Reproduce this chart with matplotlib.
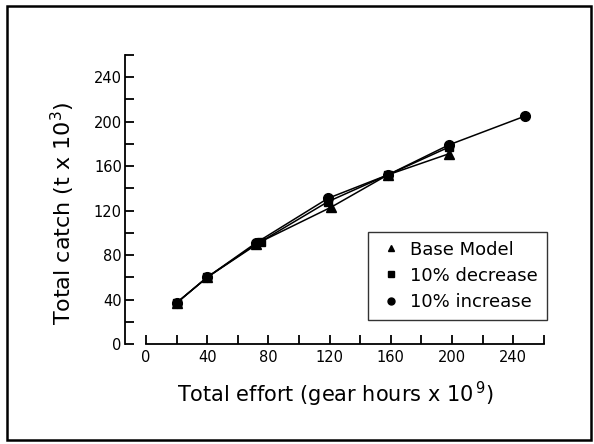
import matplotlib.pyplot as plt
from matplotlib.patches import Rectangle

# effort (gear hours x 10^9) vs catch (t x 10^3)
effort_base = [20, 40, 72, 121, 158, 198]
catch_base = [37, 60, 90, 123, 152, 171]

effort_dec = [20, 40, 75, 119, 158, 198]
catch_dec = [37, 60, 92, 128, 152, 177]

effort_inc = [20, 40, 72, 119, 158, 198, 248]
catch_inc = [37, 60, 91, 131, 152, 179, 205]

x_ticks = [0, 40, 80, 120, 160, 200, 240]
y_ticks = [0, 40, 80, 120, 160, 200, 240]


def main() -> None:
    plt.rcParams["font.family"] = "DejaVu Sans"
    fig = plt.figure(figsize=(5.94, 4.44), dpi=100)
    ax = fig.add_axes([0.2098, 0.2252, 0.7083, 0.654])

    ax.plot(effort_base, catch_base, color="black", lw=1.1, marker="^",
            ms=6.5, label="Base Model")
    ax.plot(effort_dec, catch_dec, color="black", lw=1.1, marker="s",
            ms=6, label="10% decrease")
    ax.plot(effort_inc, catch_inc, color="black", lw=1.1, marker="o",
            ms=7, label="10% increase")

    ax.set_xlim(-14, 261)
    ax.set_ylim(0, 261)
    for side in ("top", "right"):
        ax.spines[side].set_visible(False)
    ax.spines["left"].set_bounds(0, 260)
    ax.spines["bottom"].set_bounds(0, 260)
    ax.spines["left"].set_linewidth(1.3)
    ax.spines["bottom"].set_linewidth(1.3)

    ticks = list(range(0, 261, 20))
    ax.set_xticks(ticks)
    ax.set_yticks(ticks)
    ax.set_xticklabels([str(v) if v in x_ticks else "" for v in ticks])
    ax.set_yticklabels([str(v) if v in y_ticks else "" for v in ticks])
    ax.tick_params(axis="both", direction="in", length=6.5, width=1.3,
                   labelsize=10.5, color="black")
    ax.tick_params(axis="y", pad=2)
    ax.tick_params(axis="x", pad=4)

    ax.set_xlabel("Total effort (gear hours x 10$^{\\,9}$)", fontsize=15,
                  labelpad=11)
    ax.set_ylabel("Total catch (t x 10$^{3}$)", fontsize=16)
    ax.yaxis.set_label_coords(-0.112, 0.45)

    leg = ax.legend(loc="lower right", bbox_to_anchor=(1.003, 0.083),
                    borderaxespad=0, frameon=True, fancybox=False,
                    edgecolor="black", fontsize=13, handlelength=1.5,
                    handletextpad=0.3, borderpad=0.5, labelspacing=0.45)
    for line in leg.get_lines():
        line.set_linestyle("none")
        line.set_markersize(5)
    leg.get_frame().set_linewidth(1.0)

    fig.patches.append(Rectangle((7 / 594, 4 / 444), 584 / 594, 434 / 444,
                                 transform=fig.transFigure, fill=False,
                                 edgecolor="black", lw=1.8))

    fig.savefig("out.png", dpi=100)


if __name__ == "__main__":
    main()
